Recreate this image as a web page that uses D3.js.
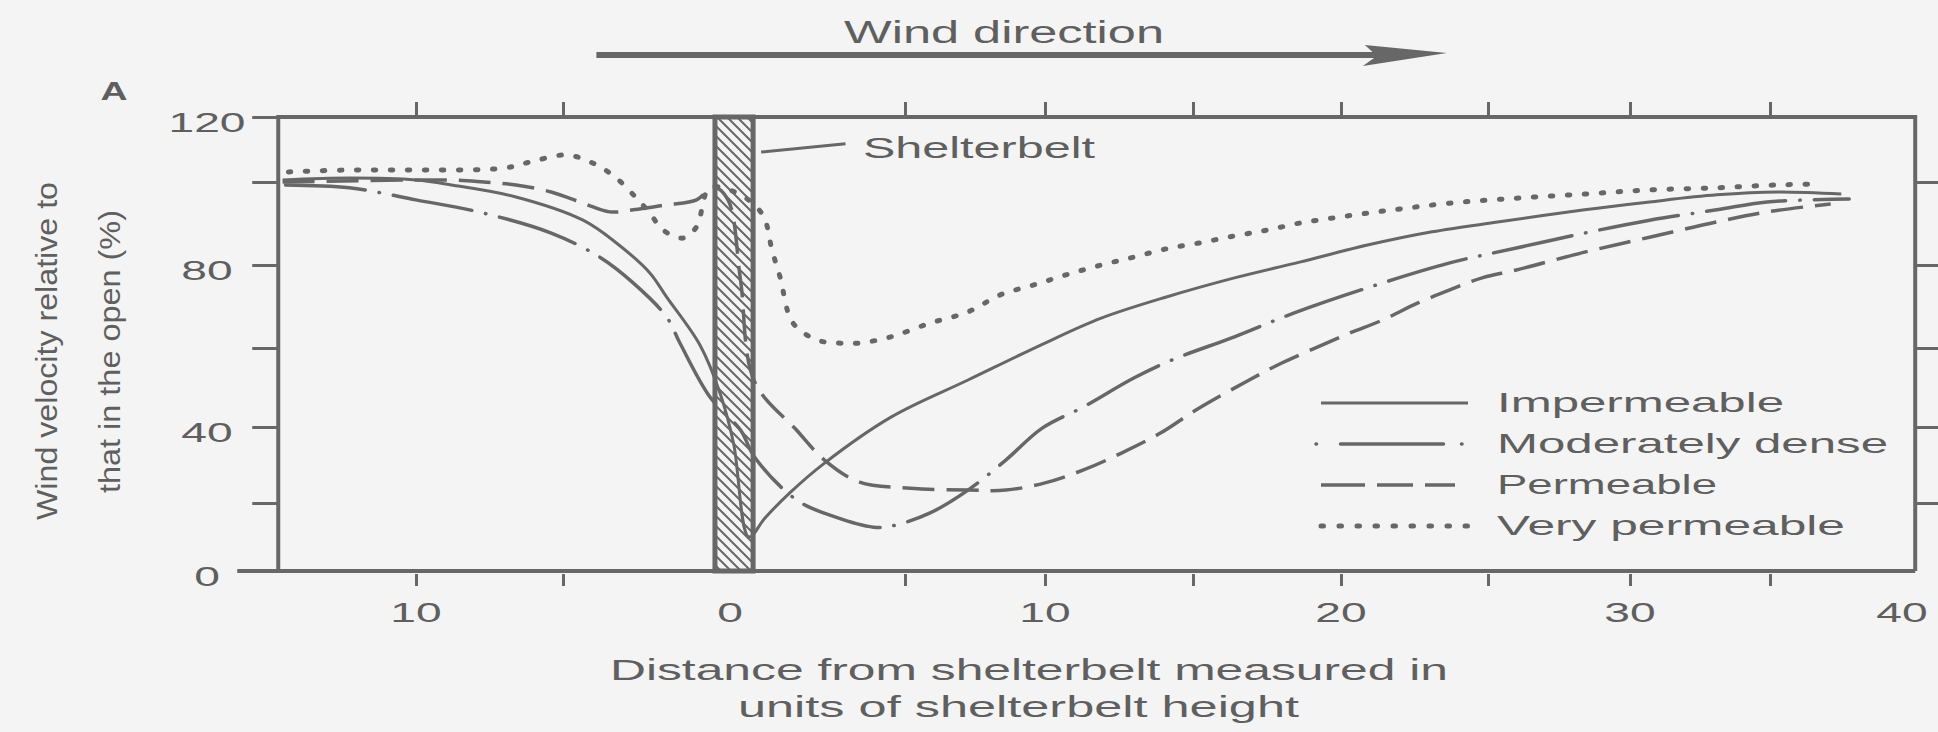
<!DOCTYPE html>
<html>
<head>
<meta charset="utf-8">
<script src="https://cdn.jsdelivr.net/npm/d3@7"></script>
<style>
  html, body { margin: 0; padding: 0; background: #f4f4f4; }
  svg { display: block; }
  text { font-family: "Liberation Sans", "DejaVu Sans", sans-serif; fill: #5f5f5f; }
</style>
</head>
<body>
<svg id="chart" width="1938" height="732"></svg>
<script>
// ---- data: wind velocity (% of open-field value) vs distance in shelterbelt heights ----
const labelledDistances = [-10, 0, 10, 20, 30, 40];
const tickDistances = [-10, -5, 5, 10, 15, 20, 25, 30, 35];
const labelledVelocities = [0, 40, 80, 120];
const tickVelocities = [20, 40, 60, 80, 100, 120];
const rightTickVelocities = [20, 40, 60, 80, 100];
const seriesNames = ["Impermeable", "Moderately dense", "Permeable", "Very permeable"];
const beltExtent = [-0.45, 0.66];

const impermeable = [
  [-14.6, 100.6], [-12.3, 101.2], [-10, 100.6], [-8.8, 99.3], [-6.6, 96.4], [-4.4, 90.8],
  [-3.4, 85.3], [-2.4, 78.1], [-1.9, 72.3], [-0.9, 60.7], [-0.3, 48.6], [0.1, 35.8],
  [0.54, 10], [1.0, 15.6], [1.7, 22.6], [2.7, 30.5], [4.6, 42.5], [7.25, 51.9],
  [10, 61.2], [11.9, 67.2], [14.1, 72.3], [16.4, 76.9], [18.6, 80.7], [20.9, 84.8],
  [23.1, 88], [25.4, 90.4], [28.4, 93.3], [30.7, 95.2], [33.1, 96.9], [35.3, 97.6], [37.7, 97.1]
];
const moderatelyDense = [
  [-14.5, 99.3], [-12.3, 98.6], [-10, 95.7], [-7.7, 92.5], [-5.4, 87.7], [-3.9, 81.9],
  [-2.9, 75.7], [-1.9, 67.5], [-1.5, 61.2], [-0.6, 47.6], [0.3, 39.2], [0.7, 32.1],
  [1.9, 20.8], [3.0, 15.9], [4.1, 12.9], [4.6, 13.2], [5.9, 17.1], [7.25, 23.4],
  [8.6, 31.3], [9.9, 39.7], [11.3, 45.1], [13, 52.4], [14.3, 57], [16.4, 62.7],
  [18.4, 68.4], [20.9, 74.5], [23.7, 80.5], [26, 84.1], [28.4, 87.7], [30.7, 90.8],
  [33.1, 93.3], [34.9, 95.2], [38, 95.9]
];
const permeable = [
  [-14.6, 100], [-8.8, 100.6], [-7.7, 100], [-6.6, 99.3], [-5.4, 97.6], [-4.4, 94.9],
  [-3.6, 92.8], [-2.9, 93.3], [-1.9, 94.5], [-1.0, 95.7], [-0.5, 98.8], [-0.06, 95.7],
  [0.3, 76.4], [0.7, 51.5], [1.9, 39.2], [2.7, 31.3], [3.7, 25.5], [5.2, 23.9],
  [7.25, 23.4], [8.6, 23.4], [10, 25.3], [11.3, 28.7], [12.6, 33.2], [13.9, 38.4],
  [15.1, 44.3], [16.9, 51.9], [18, 56.2], [19.2, 60.2], [20.3, 63.6], [21.4, 66.7],
  [22.6, 70.8], [23.7, 74], [24.8, 76.9], [26, 78.8], [28.4, 83.1], [30.7, 86.7],
  [33.1, 90.4], [34.9, 92.8], [37.3, 94.7]
];
const veryPermeable = [
  [-14.4, 103.1], [-12.3, 103.7], [-10, 103.7], [-7.0, 104.3], [-6.1, 106.2], [-4.9, 108.3],
  [-4.1, 105.8], [-3.4, 101.2], [-2.8, 96.1], [-2.4, 92.5], [-2.0, 88.4], [-1.4, 86.5],
  [-1.0, 89.2], [-0.6, 98.6], [0.3, 96.9], [0.94, 92], [1.2, 83.6], [1.43, 77.1],
  [1.8, 66], [2.5, 61.9], [3.1, 61.2], [3.7, 61.2], [4.6, 62.7], [5.9, 66],
  [7.25, 68.7], [8.4, 72.8], [9.6, 75.2], [10.7, 77.6], [11.9, 80], [13, 81.9],
  [14.1, 83.9], [15.2, 85.3], [16.4, 87], [17.5, 88.4], [18.6, 90.1], [19.7, 91.3],
  [20.9, 92.5], [22, 93.5], [23.7, 94.9], [26, 96.1], [28.4, 97.1], [30.7, 98.1],
  [33.1, 98.6], [35.3, 99.3], [36.9, 99.5]
];
const seriesValues = [impermeable, moderatelyDense, permeable, veryPermeable];

// ---- scales (calibrated to the printed tick positions) ----
const x = d3.scaleLinear()
  .domain([-15, -10, -5, 0, 5, 10, 15, 20, 25, 30, 35, 40])
  .range([271, 416, 563, 730, 905, 1045, 1193, 1341, 1488, 1630, 1770, 1902]);
const y = d3.scaleLinear()
  .domain([0, 20, 40, 60, 80, 100, 120])
  .range([571, 503, 427, 348, 265, 182, 117]);

const ink = "#676767";
const svg = d3.select("#chart");

const frameLeft = x(-14.75), frameRight = x(40.5);
const frameTop = y(120), frameBottom = y(0);

// ---- line styles per series ----
const lineStyles = [
  { width: 3,   dash: null,             cap: "butt"  },
  { width: 3.5, dash: "80 14 0.5 14",   cap: "round" },
  { width: 3.5, dash: "32 12",          cap: "butt"  },
  { width: 5,   dash: "2.5 14.5",       cap: "round" }
];

// ---- shelterbelt hatch pattern ----
const defs = svg.append("defs");
const pat = defs.append("pattern")
  .attr("id", "hatch").attr("patternUnits", "userSpaceOnUse")
  .attr("width", 10).attr("height", 10);
pat.append("path")
  .attr("d", "M-5,5 L5,15 M0,0 L10,10 M5,-5 L15,5")
  .attr("stroke", ink).attr("stroke-width", 2);

// ---- axes ticks ----
function styleAxis(g) {
  g.select(".domain").remove();
  g.selectAll(".tick line").attr("stroke", ink).attr("stroke-width", 3);
  g.selectAll(".tick text").remove();
}
svg.append("g").attr("transform", `translate(0,${frameTop})`)
  .call(d3.axisTop(x).tickValues(tickDistances).tickSize(15)).call(styleAxis);
svg.append("g").attr("transform", `translate(0,${frameBottom + 3})`)
  .call(d3.axisBottom(x).tickValues(tickDistances).tickSize(12)).call(styleAxis);
svg.append("g").attr("transform", `translate(${frameLeft},0)`)
  .call(d3.axisLeft(y).tickValues(tickVelocities).tickSize(26)).call(styleAxis);
svg.append("g").attr("transform", `translate(${frameRight},0)`)
  .call(d3.axisRight(y).tickValues(rightTickVelocities).tickSize(24)).call(styleAxis);

// ---- frame ----
svg.append("path")
  .attr("d", `M${frameLeft},${frameBottom} L${frameLeft},${frameTop} L${frameRight},${frameTop} L${frameRight},${frameBottom}`)
  .attr("fill", "none").attr("stroke", ink).attr("stroke-width", 4);
svg.append("line")
  .attr("x1", frameLeft - 41).attr("x2", frameRight)
  .attr("y1", frameBottom).attr("y2", frameBottom)
  .attr("stroke", ink).attr("stroke-width", 4);

// ---- shelterbelt ----
svg.append("rect")
  .attr("x", x(beltExtent[0])).attr("y", frameTop)
  .attr("width", x(beltExtent[1]) - x(beltExtent[0]))
  .attr("height", frameBottom - frameTop)
  .attr("fill", "url(#hatch)");

// ---- curves ----
const line = d3.line()
  .x(d => x(d[0])).y(d => y(d[1]))
  .curve(d3.curveCatmullRom.alpha(0.5));
svg.append("g").selectAll("path")
  .data(seriesValues)
  .join("path")
  .attr("d", line)
  .attr("fill", "none")
  .attr("stroke", ink)
  .attr("stroke-width", (d, i) => lineStyles[i].width)
  .attr("stroke-dasharray", (d, i) => lineStyles[i].dash)
  .attr("stroke-linecap", (d, i) => lineStyles[i].cap)
  .attr("stroke-linejoin", "round");

// shelterbelt outline on top of the curves
svg.append("rect")
  .attr("x", x(beltExtent[0])).attr("y", frameTop)
  .attr("width", x(beltExtent[1]) - x(beltExtent[0]))
  .attr("height", frameBottom - frameTop)
  .attr("fill", "none").attr("stroke", ink).attr("stroke-width", 5);

// ---- tick labels ----
svg.append("g").selectAll("text")
  .data(labelledDistances)
  .join("text")
  .attr("transform", d => `translate(${x(d)},${frameBottom + 51}) scale(1.65,1)`)
  .attr("text-anchor", "middle")
  .attr("font-size", 28)
  .text(d => Math.abs(d));
svg.append("g").selectAll("text")
  .data(labelledVelocities)
  .join("text")
  .attr("transform", d => `translate(207,${y(d) + 15}) scale(1.65,1)`)
  .attr("text-anchor", "middle")
  .attr("font-size", 28)
  .text(d => d);

// ---- titles ----
svg.append("text")
  .attr("transform", "translate(114,100) scale(1.5,1)")
  .attr("text-anchor", "middle").attr("font-size", 25).attr("font-weight", "bold")
  .text("A");
svg.append("text")
  .attr("x", 844).attr("y", 43).attr("font-size", 31)
  .attr("textLength", 320).attr("lengthAdjust", "spacingAndGlyphs")
  .text("Wind direction");
svg.append("text")
  .attr("x", 610).attr("y", 680).attr("font-size", 29)
  .attr("textLength", 838).attr("lengthAdjust", "spacingAndGlyphs")
  .text("Distance from shelterbelt measured in");
svg.append("text")
  .attr("x", 738).attr("y", 717).attr("font-size", 29)
  .attr("textLength", 561).attr("lengthAdjust", "spacingAndGlyphs")
  .text("units of shelterbelt height");
svg.append("text")
  .attr("transform", "translate(57,520) rotate(-90)")
  .attr("font-size", 30)
  .attr("textLength", 338).attr("lengthAdjust", "spacingAndGlyphs")
  .text("Wind velocity relative to");
svg.append("text")
  .attr("transform", "translate(120,493) rotate(-90)")
  .attr("font-size", 30)
  .attr("textLength", 283).attr("lengthAdjust", "spacingAndGlyphs")
  .text("that in the open (%)");

// ---- wind direction arrow ----
const arrowY = 55, arrowStart = x(-4), arrowTip = x(23.6);
svg.append("line")
  .attr("x1", arrowStart).attr("x2", arrowTip - 60)
  .attr("y1", arrowY).attr("y2", arrowY)
  .attr("stroke", ink).attr("stroke-width", 6);
svg.append("path")
  .attr("d", `M${arrowTip},${arrowY - 2} L${arrowTip - 82},${arrowY - 10} L${arrowTip - 70},${arrowY + 1} L${arrowTip - 84},${arrowY + 11} Z`)
  .attr("fill", ink);

// ---- shelterbelt annotation ----
svg.append("line")
  .attr("x1", x(beltExtent[1]) + 8).attr("y1", y(109.2))
  .attr("x2", x(3.3)).attr("y2", y(111.8))
  .attr("stroke", ink).attr("stroke-width", 3);
svg.append("text")
  .attr("x", 863).attr("y", 158).attr("font-size", 29)
  .attr("textLength", 232).attr("lengthAdjust", "spacingAndGlyphs")
  .text("Shelterbelt");

// ---- legend ----
const legendTextWidths = [287, 391, 220, 348];
const legend = svg.append("g").attr("transform", "translate(1321,403)");
const rows = legend.selectAll("g")
  .data(seriesNames)
  .join("g")
  .attr("transform", (d, i) => `translate(0,${i * 41})`);
rows.append("line")
  .attr("x1", (d, i) => i === 1 ? -5 : 0)
  .attr("x2", 147)
  .attr("stroke", ink)
  .attr("stroke-width", (d, i) => lineStyles[i].width)
  .attr("stroke-linecap", (d, i) => lineStyles[i].cap)
  .attr("stroke-dasharray", (d, i) => [null, "0.5 24 103 18 0.5 40", "44 12 36 12 30 40", "2.5 15.5"][i]);
rows.append("text")
  .attr("x", 176).attr("y", 9).attr("font-size", 28)
  .attr("textLength", (d, i) => legendTextWidths[i])
  .attr("lengthAdjust", "spacingAndGlyphs")
  .text(d => d);
</script>
</body>
</html>
